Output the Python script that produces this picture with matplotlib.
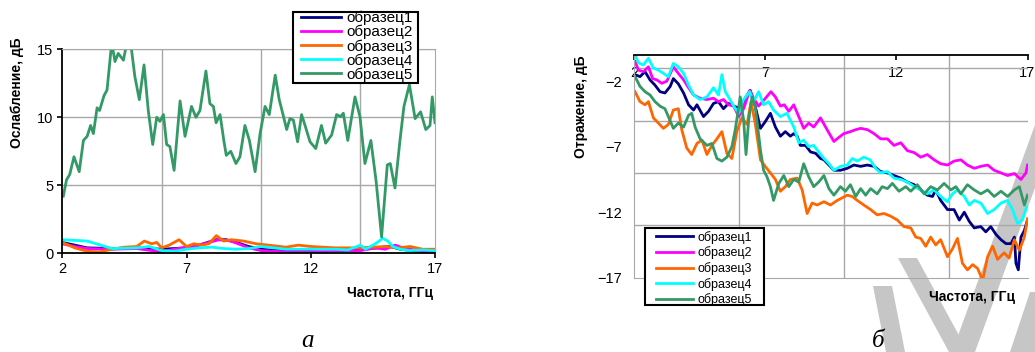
import matplotlib
matplotlib.use("Agg")
import matplotlib.pyplot as plt
from matplotlib.patches import Polygon, Rectangle

plt.rcParams["font.family"] = ["Liberation Sans", "DejaVu Sans"]

W, H = 1035, 352

# ---- data: attenuation (panel a) ----
names = ["образец1", "образец2", "образец3", "образец4", "образец5"]
colors = ["#000080", "#FF00FF", "#FF6600", "#00FFFF", "#339966"]

att1_x = [2, 2.5, 3, 4, 5, 6, 7, 7.5, 8.2, 8.6, 9, 9.5, 10, 11, 12, 13, 14, 14.7, 15.2, 15.6, 16.5, 17]
att1_y = [0.8, 0.6, 0.4, 0.35, 0.4, 0.3, 0.4, 0.6, 1.0, 1.0, 0.8, 0.5, 0.3, 0.2, 0.15, 0.2, 0.3, 0.4, 0.5, 0.3, 0.1, 0.05]

att2_x = [2, 2.5, 3, 4, 5, 6, 6.5, 7, 7.5, 8.3, 8.8, 9.5, 10, 11, 12, 13, 14, 14.6, 15.0, 15.4, 15.7, 16.3, 17]
att2_y = [0.7, 0.5, 0.35, 0.3, 0.35, 0.1, 0.3, 0.45, 0.6, 1.0, 0.9, 0.4, 0.2, 0.1, 0.1, 0.2, 0.2, 0.4, 0.3, 0.6, 0.4, 0.2, 0.1]

att3_x = [2, 2.5, 3, 3.5, 4, 4.5, 5, 5.3, 5.6, 5.8, 6, 6.3, 6.7, 7, 7.3, 7.6, 7.9, 8.2, 8.5, 8.8,
          9.3, 9.8, 10.3, 11, 11.5, 12, 13, 14, 14.5, 15, 15.5, 16, 16.5, 17]
att3_y = [0.8, 0.4, 0.15, 0.1, 0.3, 0.45, 0.5, 0.9, 0.7, 0.8, 0.4, 0.6, 1.0, 0.5, 0.7, 0.6, 0.7, 1.3, 0.9, 1.0,
          0.9, 0.7, 0.6, 0.45, 0.6, 0.5, 0.4, 0.4, 0.45, 0.5, 0.4, 0.5, 0.3, 0.3]

att4_x = [2, 3, 4, 5, 5.5, 6, 6.5, 7, 7.5, 8, 8.5, 9, 9.5, 10, 10.5, 11, 12, 13, 13.5, 14, 14.2,
          14.6, 14.9, 15.1, 15.3, 15.6, 16, 16.5, 17]
att4_y = [1.0, 0.9, 0.35, 0.4, 0.5, 0.2, 0.15, 0.3, 0.4, 0.45, 0.35, 0.3, 0.35, 0.5, 0.4, 0.3, 0.3, 0.3, 0.25, 0.6, 0.3,
          0.7, 1.1, 0.9, 0.5, 0.3, 0.2, 0.25, 0.2]

att5_x = [2.04, 2.17, 2.3, 2.47, 2.68, 2.85, 3.0, 3.14, 3.25, 3.4, 3.5, 3.68, 3.8, 3.99, 4.12, 4.25, 4.46, 4.6,
          4.75, 4.92, 5.1, 5.29, 5.46, 5.64, 5.8, 5.93, 6.07, 6.2, 6.33, 6.5, 6.74, 6.94, 7.2, 7.38, 7.54,
          7.78, 7.94, 8.08, 8.19, 8.35, 8.5, 8.6, 8.78, 8.99, 9.15, 9.35, 9.53, 9.76, 9.96, 10.16, 10.33,
          10.57, 10.73, 10.87, 11.03, 11.16, 11.3, 11.47, 11.63, 11.77, 11.97, 12.2, 12.43, 12.6, 12.84,
          13.04, 13.2, 13.31, 13.49, 13.78, 13.98, 14.18, 14.42, 14.63, 14.85, 15.08, 15.2, 15.39, 15.59,
          15.75, 15.97, 16.2, 16.42, 16.63, 16.8, 16.89, 17.0]
att5_y = [4.2, 5.4, 5.8, 7.1, 6.0, 8.3, 8.6, 9.4, 8.8, 10.7, 10.5, 11.6, 12.0, 15.5, 14.1, 14.7, 14.2, 15.5,
          15.5, 13.0, 11.3, 13.85, 10.5, 8.0, 10.0, 9.7, 10.2, 8.0, 7.85, 6.1, 11.2, 8.6, 10.8, 10.0, 10.5,
          13.4, 11.0, 10.8, 9.6, 10.2, 8.3, 7.2, 7.5, 6.6, 7.1, 9.4, 8.3, 6.0, 8.8, 10.8, 10.2,
          13.1, 11.3, 10.3, 9.1, 9.9, 9.8, 8.2, 10.2, 9.4, 8.2, 7.7, 9.4, 8.1, 8.7,
          10.2, 10.05, 10.3, 8.3, 11.5, 10.05, 6.6, 8.3, 5.3, 1.2, 6.5, 6.6, 4.8, 8.3,
          10.8, 12.4, 9.9, 10.4, 9.1, 9.4, 11.5, 9.6]

# ---- data: reflection (panel б) ----
ref1_x = [2.04, 2.23, 2.42, 2.61, 2.8, 2.99, 3.18, 3.38, 3.5, 3.69, 3.89, 4.08, 4.27, 4.4, 4.65, 4.84, 5.03,
          5.22, 5.41, 5.6, 5.8, 6.05, 6.24, 6.43, 6.62, 6.82, 7.0, 7.2, 7.39, 7.58, 7.77, 7.96, 8.09, 8.22,
          8.34, 8.54, 8.73, 8.92, 9.11, 9.24, 9.43, 9.62, 9.87, 10.13, 10.38, 10.64, 10.89, 11.15, 11.4,
          11.66, 11.91, 12.17, 12.42, 12.68, 12.93, 13.18, 13.38, 13.5, 13.69, 13.95, 14.2, 14.4, 14.59,
          14.78, 14.97, 15.22, 15.41, 15.6, 15.8, 15.99, 16.18, 16.37, 16.5, 16.56, 16.65, 16.75, 16.88, 17.0]
ref1_y = [-1.5, -1.65, -1.27, -1.9, -2.3, -2.8, -2.9, -2.4, -1.8, -2.2, -2.9, -3.8, -4.2, -3.8, -4.7, -4.3, -3.7,
          -3.56, -4.1, -3.7, -3.9, -4.1, -3.3, -2.7, -3.9, -5.6, -5.1, -4.45, -5.5, -6.2, -5.85, -6.2, -6.0, -6.2,
          -6.9, -6.9, -7.4, -7.5, -7.9, -8.0, -8.4, -8.8, -8.8, -8.65, -8.4, -8.5, -8.4, -8.5, -8.9,
          -9.0, -9.2, -9.4, -9.7, -9.9, -10.3, -10.7, -10.8, -10.3, -11.1, -11.8, -11.8, -12.6, -12.0,
          -12.7, -13.2, -13.1, -13.5, -13.1, -13.7, -14.1, -14.4, -14.4, -13.9, -15.9, -16.4, -13.9, -13.4, -12.6]

ref2_x = [2.04, 2.17, 2.36, 2.55, 2.71, 2.87, 3.06, 3.25, 3.5, 3.69, 3.89, 4.08, 4.27, 4.52, 4.78, 5.03, 5.22,
          5.41, 5.6, 5.8, 5.99, 6.18, 6.41, 6.56, 6.75, 6.97, 7.22, 7.39, 7.58, 7.73, 7.9, 8.09, 8.28, 8.47,
          8.66, 8.85, 9.11, 9.36, 9.62, 9.8, 10.0, 10.25, 10.45, 10.64, 10.9, 11.15, 11.4, 11.66, 11.91,
          12.17, 12.42, 12.68, 12.93, 13.18, 13.44, 13.69, 13.95, 14.2, 14.46, 14.71, 14.97, 15.22, 15.48,
          15.73, 15.99, 16.24, 16.5, 16.75, 16.94, 17.0]
ref2_y = [-0.5, -1.15, -1.27, -0.9, -1.8, -1.9, -2.16, -2.0, -0.9, -1.4, -1.9, -2.5, -3.05, -3.3, -3.4, -3.3, -3.56,
          -3.4, -3.8, -3.9, -4.7, -4.1, -2.7, -3.3, -3.9, -3.4, -2.8, -3.2, -3.9, -3.8, -4.3, -3.8, -4.7, -5.6,
          -5.2, -5.5, -4.8, -5.7, -6.6, -6.3, -6.0, -5.85, -5.7, -5.6, -5.7, -6.0, -6.4, -6.4, -6.9,
          -6.7, -7.3, -7.45, -7.8, -7.6, -8.0, -8.3, -8.4, -8.1, -8.0, -8.4, -8.65, -8.5, -8.4,
          -8.8, -9.0, -9.2, -9.05, -9.5, -9.0, -8.4]

ref3_x = [2.04, 2.23, 2.42, 2.55, 2.74, 2.93, 3.12, 3.31, 3.5, 3.69, 3.82, 4.01, 4.2, 4.4, 4.59, 4.78, 4.97,
          5.16, 5.35, 5.54, 5.73, 5.92, 6.11, 6.31, 6.46, 6.62, 6.82, 7.0, 7.2, 7.39, 7.58, 7.77, 7.96, 8.22,
          8.41, 8.6, 8.79, 8.98, 9.24, 9.49, 9.75, 9.94, 10.13, 10.32, 10.51, 10.76, 11.02, 11.27, 11.53,
          11.78, 12.04, 12.29, 12.55, 12.74, 12.93, 13.12, 13.31, 13.5, 13.69, 13.95, 14.14, 14.33, 14.52,
          14.71, 14.91, 15.1, 15.29, 15.48, 15.67, 15.86, 16.11, 16.3, 16.5, 16.69, 16.88, 17.0]
ref3_y = [-2.8, -3.56, -3.8, -3.56, -4.8, -5.2, -5.6, -5.3, -4.2, -4.1, -5.7, -7.1, -7.6, -6.75, -6.5, -7.6, -6.9,
          -6.4, -5.85, -7.5, -7.9, -5.85, -4.8, -5.3, -3.56, -5.2, -8.0, -8.5, -9.0, -9.5, -10.4, -10.05, -9.5, -9.4,
          -10.3, -12.1, -11.3, -11.45, -11.2, -11.45, -11.1, -10.9, -10.7, -10.8, -11.1, -11.45, -11.8, -12.2, -12.1,
          -12.3, -12.6, -13.1, -13.2, -13.9, -14.0, -14.6, -13.9, -14.5, -14.1, -15.4, -14.8, -14.0, -15.9,
          -16.4, -16.0, -16.3, -17.2, -15.4, -14.6, -15.6, -15.1, -15.5, -14.1, -14.9, -13.9, -12.5]

ref4_x = [2.04, 2.17, 2.36, 2.55, 2.74, 2.93, 3.12, 3.31, 3.5, 3.69, 3.89, 4.08, 4.27, 4.52, 4.78, 5.03, 5.22,
          5.35, 5.48, 5.6, 5.8, 5.99, 6.18, 6.41, 6.56, 6.75, 6.94, 7.13, 7.32, 7.58, 7.83, 8.09, 8.28, 8.47,
          8.66, 8.85, 9.04, 9.24, 9.43, 9.62, 9.87, 10.13, 10.32, 10.51, 10.76, 11.0, 11.21, 11.4, 11.66,
          11.91, 12.17, 12.42, 12.68, 12.93, 13.18, 13.44, 13.69, 13.95, 14.14, 14.33, 14.59, 14.78, 14.97,
          15.22, 15.48, 15.73, 15.99, 16.24, 16.43, 16.62, 16.8, 16.97]
ref4_y = [0.0, -0.6, -0.76, -0.25, -1.0, -1.15, -1.4, -1.65, -0.64, -0.9, -1.4, -2.3, -3.05, -3.4, -3.2, -2.5, -3.05,
          -1.5, -2.8, -3.2, -3.9, -4.45, -3.4, -2.8, -3.56, -2.8, -3.8, -3.56, -4.2, -4.7, -4.45, -5.5, -6.7, -6.5,
          -7.0, -6.9, -7.4, -7.9, -8.3, -8.8, -8.5, -8.4, -7.9, -8.1, -7.8, -8.0, -8.65, -9.0, -8.9,
          -9.4, -9.5, -9.7, -10.05, -10.3, -10.6, -10.3, -10.8, -11.2, -10.6, -10.3, -10.8, -11.45, -11.1,
          -11.3, -12.1, -11.8, -11.3, -11.1, -11.8, -12.85, -12.6, -11.6]

ref5_x = [2.04, 2.23, 2.42, 2.61, 2.8, 2.99, 3.18, 3.31, 3.5, 3.69, 3.89, 4.08, 4.2, 4.33, 4.52, 4.78, 4.97,
          5.16, 5.35, 5.54, 5.73, 5.86, 6.05, 6.18, 6.27, 6.37, 6.5, 6.62, 6.82, 6.94, 7.07, 7.2, 7.32, 7.52,
          7.71, 7.9, 8.09, 8.28, 8.47, 8.66, 8.85, 9.04, 9.24, 9.43, 9.62, 9.87, 10.06, 10.25, 10.45, 10.64,
          10.83, 11.02, 11.27, 11.46, 11.66, 11.85, 12.1, 12.36, 12.55, 12.8, 13.06, 13.31, 13.57, 13.82,
          14.08, 14.27, 14.46, 14.71, 14.97, 15.22, 15.48, 15.73, 15.99, 16.24, 16.5, 16.69, 16.88, 17.0]
ref5_y = [-1.65, -2.4, -2.8, -3.05, -3.56, -3.9, -4.1, -4.7, -5.6, -5.2, -5.5, -4.6, -4.45, -5.5, -6.4, -6.9, -6.75,
          -7.9, -8.1, -7.8, -7.0, -5.7, -3.2, -5.0, -7.6, -5.0, -3.2, -3.9, -7.25, -8.8, -9.3, -10.05, -11.1, -9.8,
          -9.2, -10.05, -9.5, -9.7, -8.3, -9.3, -10.05, -9.7, -9.2, -10.2, -10.7, -10.05, -10.4, -9.9, -10.8, -10.2,
          -10.7, -10.2, -10.6, -10.05, -10.2, -9.8, -10.4, -10.05, -10.4, -9.9, -10.6, -10.05, -10.3, -9.8,
          -10.3, -10.05, -10.6, -9.9, -10.3, -10.6, -10.3, -10.8, -10.4, -10.8, -10.3, -10.05, -11.45, -10.7]

att_series = [(att1_x, att1_y), (att2_x, att2_y), (att3_x, att3_y), (att4_x, att4_y), (att5_x, att5_y)]
ref_series = [(ref1_x, ref1_y), (ref2_x, ref2_y), (ref3_x, ref3_y), (ref4_x, ref4_y), (ref5_x, ref5_y)]

x_ticks = [2, 7, 12, 17]
x_grid = [6, 10, 14]
att_ticks = [0, 5, 10, 15]
ref_ticks = [-2, -7, -12, -17]
ref_grid = [-1, -5, -9, -13]

GRID = "#a8a8a8"
LW = 2.0


def fx(px):
    return px / W


def fy(py):
    return 1 - py / H


def legend_box(ax, x0, y0, x1, y1):
    # Excel-style square frame drawn by hand so the padding can differ per side
    ax.add_patch(Rectangle((fx(x0), fy(y1)), fx(x1) - fx(x0), fy(y0) - fy(y1),
                           transform=ax.figure.transFigure, facecolor="white",
                           edgecolor="black", lw=1.5, zorder=4.9, clip_on=False))


fig = plt.figure(figsize=(W / 100, H / 100), dpi=100)

# watermark strokes behind the charts (pixel coords, top-left origin)
stripes = [
    [(873, 286), (892, 286), (905, 352), (886, 352)],
    [(898, 258), (917, 258), (968, 352), (949, 352)],
    [(952, 352), (975, 352), (1058, 125), (1035, 125)],
    [(1010, 352), (1035, 352), (1035, 292), (1030, 292)],
]
for pts in stripes:
    fig.patches.append(Polygon([(fx(a), fy(b)) for a, b in pts], closed=True,
                               transform=fig.transFigure, color="#c6c6c6", zorder=-5, lw=0))

# ---- panel a ----
ax1 = fig.add_axes([fx(62.3), fy(253.3), fx(435) - fx(62.3), fy(49.3) - fy(253.3)])
ax1.set_facecolor("none")
for (xs, ys), c in zip(att_series, colors):
    ax1.plot(xs, ys, color=c, lw=LW)
ax1.set_xlim(2, 17)
ax1.set_ylim(0, 15)
ax1.set_xticks(x_ticks)
ax1.set_xticks(x_grid, minor=True)
ax1.set_yticks(att_ticks)
ax1.grid(True, which="minor", axis="x", color=GRID, lw=1)
ax1.grid(True, which="major", axis="y", color=GRID, lw=1)
ax1.tick_params(which="minor", length=0)
ax1.tick_params(which="major", direction="out", length=3.5, width=1.2, labelsize=10.5, pad=3)
for s in ("top", "right"):
    ax1.spines[s].set_color(GRID)
for s in ("left", "bottom"):
    ax1.spines[s].set_linewidth(1.3)
ax1.set_axisbelow(True)

fig.text(fx(17), fy(93), "Ослабление, дБ", rotation=90, ha="center", va="center",
         fontsize=10, fontweight="bold")
fig.text(fx(433), fy(293), "Частота, ГГц", ha="right", va="center", fontsize=10, fontweight="bold")

legend_box(ax1, 293, 12, 418, 83)
ax1.legend(names, loc="upper left", bbox_to_anchor=(fx(301), fy(10.9)),
           bbox_transform=fig.transFigure, borderaxespad=0, borderpad=0, fontsize=11,
           labelspacing=-0.02, handlelength=2.62, handletextpad=0.33, frameon=False)

# ---- panel б ----
ax2 = fig.add_axes([fx(634), fy(277.7), fx(1027.5) - fx(634), fy(55) - fy(277.7)])
ax2.set_facecolor("none")
for (xs, ys), c in zip(ref_series, colors):
    ax2.plot(xs, ys, color=c, lw=LW)
ax2.set_xlim(2, 17)
ax2.set_ylim(-17, 0)
ax2.set_xticks(x_ticks)
ax2.set_xticks(x_grid, minor=True)
ax2.set_yticks(ref_ticks)
ax2.set_yticks(ref_grid, minor=True)
ax2.grid(True, which="minor", color=GRID, lw=1)
ax2.tick_params(which="minor", length=0)
ax2.tick_params(axis="x", which="major", top=True, bottom=False, labeltop=True, labelbottom=False,
                direction="in", length=3.5, width=1.2, labelsize=10.5, pad=-18)
ax2.tick_params(axis="y", which="major", length=0, labelsize=10.5, pad=9)
ax2.spines["right"].set_visible(False)
ax2.spines["left"].set_color(GRID)
ax2.spines["bottom"].set_color(GRID)
ax2.spines["top"].set_linewidth(1.3)
ax2.set_axisbelow(True)

fig.text(fx(581), fy(107), "Отражение, дБ", rotation=90, ha="center", va="center",
         fontsize=10, fontweight="bold")
fig.text(fx(1015), fy(297), "Частота, ГГц", ha="right", va="center", fontsize=10, fontweight="bold")

legend_box(ax2, 645, 227.7, 764, 305)
ax2.legend(names, loc="upper left", bbox_to_anchor=(fx(656), fy(230.6)),
           bbox_transform=fig.transFigure, borderaxespad=0, borderpad=0, fontsize=9,
           labelspacing=0.22, handlelength=2.95, handletextpad=0.35, frameon=False)

# captions
fig.text(fx(308), fy(347), "а", ha="center", va="baseline", fontsize=18, style="italic",
         family="Liberation Serif")
fig.text(fx(878), fy(347), "б", ha="center", va="baseline", fontsize=18, style="italic",
         family="Liberation Serif")

fig.savefig("out.png", dpi=100)
